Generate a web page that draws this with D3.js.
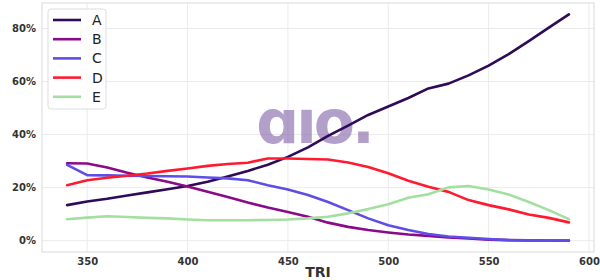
<!DOCTYPE html>
<html>
<head>
<meta charset="utf-8">
<script src="https://cdn.jsdelivr.net/npm/d3@7"></script>
<style>
  body { margin: 0; background: #fff; }
  svg { display: block; font-family: "DejaVu Sans", sans-serif; }
</style>
</head>
<body>
<svg id="chart" width="600" height="280"></svg>
<script>
var tri = d3.range(340, 600, 10);
var seriesNames = ["A", "B", "C", "D", "E"];
var seriesA = [13.4, 14.8, 15.8, 17.0, 18.2, 19.4, 20.6, 22.2, 24.2, 26.3, 28.6, 31.6, 35.2, 39.5, 43.4, 47.4, 50.6, 53.8, 57.4, 59.2, 62.3, 66.0, 70.3, 75.2, 80.3, 85.3];
var seriesB = [29.2, 29.1, 27.6, 25.6, 23.8, 22.2, 20.4, 18.4, 16.5, 14.4, 12.5, 10.8, 9.0, 6.8, 5.2, 4.0, 3.1, 2.3, 1.8, 1.2, 0.8, 0.4, 0.2, 0.1, 0.05, 0.0];
var seriesC = [28.6, 24.7, 24.6, 24.5, 24.4, 24.3, 24.2, 23.8, 23.5, 22.8, 20.9, 19.3, 17.2, 14.6, 11.5, 8.4, 5.8, 4.0, 2.5, 1.6, 1.1, 0.6, 0.2, 0.1, 0.05, 0.0];
var seriesD = [20.9, 22.8, 23.7, 24.5, 25.3, 26.3, 27.2, 28.2, 28.9, 29.4, 31.0, 31.0, 30.8, 30.6, 29.5, 27.8, 25.4, 22.6, 20.3, 18.4, 15.3, 13.4, 11.8, 9.9, 8.6, 6.9];
var seriesE = [8.1, 8.7, 9.2, 8.9, 8.6, 8.4, 8.0, 7.7, 7.7, 7.7, 7.8, 8.0, 8.4, 9.0, 10.3, 11.9, 13.7, 16.2, 17.5, 20.1, 20.6, 19.3, 17.4, 14.6, 11.5, 8.1];
var xTicks = [350, 400, 450, 500, 550, 600];
var yTicks = [0, 20, 40, 60, 80];
var colors = ["#2e0a57", "#8a0a88", "#5e4de6", "#ff1a30", "#a3dfa0"];

var allSeries = [seriesA, seriesB, seriesC, seriesD, seriesE];

var margin = {top: 3, right: 6, bottom: 28, left: 42},
    width = 600 - margin.left - margin.right,
    height = 280 - margin.top - margin.bottom;

var svg = d3.select("#chart");
var g = svg.append("g")
  .attr("transform", "translate(" + margin.left + "," + margin.top + ")");

var x = d3.scaleLinear().domain([327.5, 602.5]).range([0, width]);
var y = d3.scaleLinear().domain([-4.27, 89.6]).range([height, 0]);

// grid
g.append("g").selectAll("line").data(xTicks).enter().append("line")
  .attr("x1", d => x(d)).attr("x2", d => x(d))
  .attr("y1", 0).attr("y2", height)
  .attr("stroke", "#ebebeb").attr("stroke-width", 1);
g.append("g").selectAll("line").data(yTicks).enter().append("line")
  .attr("x1", 0).attr("x2", width)
  .attr("y1", d => y(d)).attr("y2", d => y(d))
  .attr("stroke", "#ebebeb").attr("stroke-width", 1);

// watermark
g.append("text")
  .attr("x", x(463)).attr("y", y(36.8))
  .attr("text-anchor", "middle")
  .attr("font-family", "DejaVu Sans")
  .attr("font-weight", "bold")
  .attr("font-size", 60)
  .attr("letter-spacing", -3)
  .attr("fill", "#8a6cae")
  .attr("opacity", 0.65)
  .text("ɑıo.");

// axes
var xAxis = d3.axisBottom(x).tickValues(xTicks).tickSize(0).tickPadding(6);
var yAxis = d3.axisLeft(y).tickValues(yTicks).tickSize(0).tickPadding(6)
  .tickFormat(d => d + "%");

var gx = g.append("g").attr("transform", "translate(0," + height + ")").call(xAxis);
var gy = g.append("g").call(yAxis);
[gx, gy].forEach(a => {
  a.select(".domain").remove();
  a.selectAll("text")
    .attr("font-family", "DejaVu Sans")
    .attr("font-size", 10)
    .attr("font-weight", "bold")
    .attr("fill", "#333");
});

// lines
var line = d3.line()
  .x((d, i) => x(tri[i]))
  .y(d => y(d));

g.append("g").selectAll("path").data(allSeries).enter().append("path")
  .attr("d", d => line(d))
  .attr("fill", "none")
  .attr("stroke", (d, i) => colors[i])
  .attr("stroke-width", 2.6)
  .attr("stroke-linejoin", "round")
  .attr("stroke-linecap", "round");

// frame
g.append("rect")
  .attr("width", width).attr("height", height)
  .attr("fill", "none").attr("stroke", "#d9d9d9").attr("stroke-width", 1);

// x label
svg.append("text")
  .attr("x", margin.left + width / 2).attr("y", 277)
  .attr("text-anchor", "middle")
  .attr("font-size", 14).attr("font-weight", "bold").attr("fill", "#333")
  .text("TRI");

// legend
var legend = g.append("g").attr("transform", "translate(6,6)");
legend.append("rect")
  .attr("width", 58).attr("height", 100).attr("rx", 3)
  .attr("fill", "#fff").attr("fill-opacity", 0.85)
  .attr("stroke", "#dddddd");
var item = legend.selectAll(".item").data(seriesNames).enter().append("g")
  .attr("transform", (d, i) => "translate(0," + (11 + i * 19.2) + ")");
item.append("line")
  .attr("x1", 5).attr("x2", 33)
  .attr("stroke", (d, i) => colors[i]).attr("stroke-width", 2.6);
item.append("text")
  .attr("x", 44).attr("dy", "0.36em")
  .attr("font-size", 14).attr("fill", "#222")
  .text(d => d);
</script>
</body>
</html>
